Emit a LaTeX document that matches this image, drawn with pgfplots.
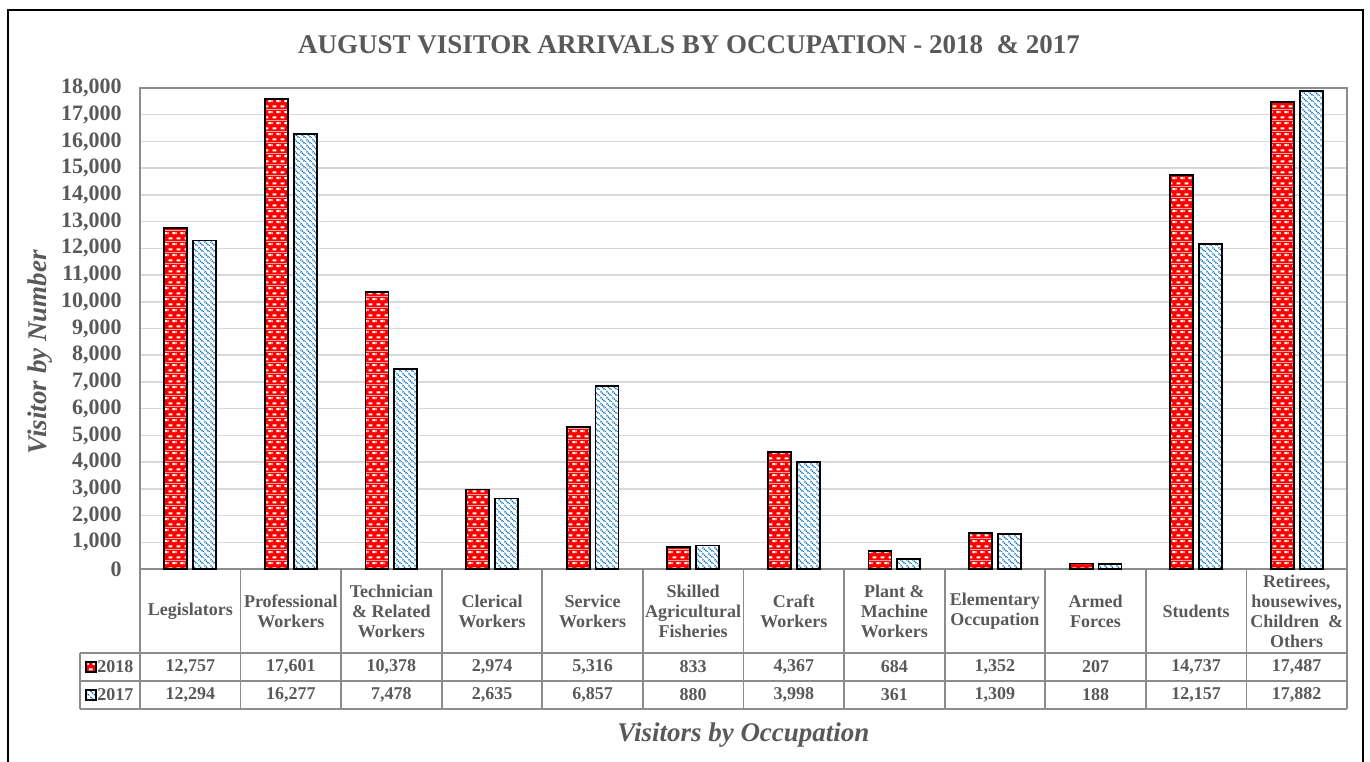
\documentclass[border=0pt]{standalone}
\usepackage{fontspec}
\setmainfont{Liberation Serif}
\usepackage{pgfplots}
\usepackage{pgfplotstable}
\pgfplotsset{compat=1.18}
\usetikzlibrary{patterns}
\definecolor{txtgrey}{RGB}{89,89,89}
\definecolor{gridgrey}{RGB}{217,217,217}
\definecolor{bordergrey}{RGB}{140,140,140}
\definecolor{dotblue}{RGB}{0,112,192}
\pgfdeclarepatterninherentlycolored{redbrick}{\pgfqpoint{0pt}{0pt}}{\pgfqpoint{4pt}{5.6pt}}{\pgfqpoint{4pt}{5.6pt}}{%
  \pgfsetfillcolor{red}%
  \pgfpathrectangle{\pgfqpoint{0pt}{0pt}}{\pgfqpoint{4pt}{5.6pt}}%
  \pgfusepath{fill}%
  \pgfsetfillcolor{white}%
  \pgfpathrectangle{\pgfqpoint{0.4pt}{0.9pt}}{\pgfqpoint{2pt}{1pt}}%
  \pgfpathrectangle{\pgfqpoint{2.4pt}{3.7pt}}{\pgfqpoint{1.6pt}{1pt}}%
  \pgfpathrectangle{\pgfqpoint{0pt}{3.7pt}}{\pgfqpoint{0.4pt}{1pt}}%
  \pgfusepath{fill}}
\pgfdeclarepatterninherentlycolored{bluedots}{\pgfqpoint{0pt}{0pt}}{\pgfqpoint{3pt}{3pt}}{\pgfqpoint{3pt}{3pt}}{%
  \pgfsetfillcolor{white}%
  \pgfpathrectangle{\pgfqpoint{0pt}{0pt}}{\pgfqpoint{3pt}{3pt}}%
  \pgfusepath{fill}%
  \pgfsetstrokecolor{dotblue}%
  \pgfsetlinewidth{0.75pt}%
  \pgfsetdash{{0.7pt}{0.5pt}}{0pt}%
  \pgfpathmoveto{\pgfqpoint{-0.5pt}{3.5pt}}\pgfpathlineto{\pgfqpoint{3.5pt}{-0.5pt}}%
  \pgfusepath{stroke}}
\pgfplotstableread{
x a b
0 12757 12294
1 17601 16277
2 10378 7478
3 2974 2635
4 5316 6857
5 833 880
6 4367 3998
7 684 361
8 1352 1309
9 207 188
10 14737 12157
11 17487 17882
}\datatable
\newcommand{\tabfont}{\bfseries\fontsize{9}{10}\selectfont}
\begin{document}
\begin{tikzpicture}
\begin{axis}[
  at={(0pt,0pt)}, anchor=south west,
  scale only axis, width=603.5pt, height=240.5pt,
  xmin=-0.5, xmax=11.5, ymin=0, ymax=18000,
  enlargelimits=false, clip=false,
  axis line style={draw=bordergrey, line width=0.7pt},
  ymajorgrids, grid style={gridgrey, line width=0.75pt},
  major tick length=0pt,
  ytick={0,1000,...,18000},
  scaled y ticks=false,
  yticklabel={\pgfmathprintnumber[fixed,precision=0,1000 sep={,},assume math mode=true]{\tick}},
  yticklabel style={font=\bfseries\fontsize{11}{13}\selectfont, text=txtgrey, anchor=east, inner sep=0pt, xshift=-9pt},
  xtick={0,...,11},
  xticklabels={{Legislators},{Professional\\Workers},{Technician\\\& Related\\Workers},{Clerical\\Workers},{Service\\Workers},{Skilled\\Agricultural\\Fisheries},{Craft\\Workers},{Plant \&\\Machine\\Workers},{Elementary\\Occupation},{Armed\\Forces},{Students},{Retirees,\\housewives,\\Children \ \&\\Others}},
  xticklabel style={font=\tabfont, text=txtgrey, align=center, anchor=center, yshift=-21pt, inner sep=0pt},
  title={AUGUST VISITOR ARRIVALS BY OCCUPATION - 2018 \ \& 2017},
  title style={at={(axis description cs:0.4549,1.0644)}, anchor=center, font=\bfseries\fontsize{13.5}{15}\selectfont, text=txtgrey},
  xlabel={Visitors by Occupation},
  xlabel style={at={(axis description cs:0.5,-0.3451)}, anchor=center, font=\bfseries\itshape\fontsize{13.5}{15}\selectfont, text=txtgrey},
  ylabel={Visitor by Number},
  ylabel style={at={(axis description cs:-0.0829,0.451)}, anchor=center, font=\bfseries\itshape\fontsize{13.5}{15}\selectfont, text=txtgrey},
]
\addplot[ybar, bar width=11.5pt, bar shift=-7.2pt, draw=black, line width=0.9pt, pattern=redbrick]
  table[x=x, y=a]{\datatable};
\addplot[ybar, bar width=11.5pt, bar shift=7.2pt, draw=black, line width=0.9pt, pattern=bluedots]
  table[x=x, y=b]{\datatable};
\addplot[only marks, mark=none, forget plot, point meta=explicit,
  nodes near coords={\pgfmathprintnumber[fixed,precision=0,1000 sep={,},assume math mode=true]{\pgfplotspointmeta}},
  every node near coord/.append style={anchor=center, yshift=-49pt, font=\tabfont, text=txtgrey, inner sep=0pt}]
  table[x=x, y expr=0, meta=a]{\datatable};
\addplot[only marks, mark=none, forget plot, point meta=explicit,
  nodes near coords={\pgfmathprintnumber[fixed,precision=0,1000 sep={,},assume math mode=true]{\pgfplotspointmeta}},
  every node near coord/.append style={anchor=center, yshift=-63pt, font=\tabfont, text=txtgrey, inner sep=0pt}]
  table[x=x, y expr=0, meta=b]{\datatable};
\end{axis}
\begin{scope}[bordergrey, line width=0.9pt]
\foreach \k in {0,...,12} \draw ({\k*50.2917pt},0pt) -- ({\k*50.2917pt},-70pt);
\draw (-30pt,-42pt) -- (603.5pt,-42pt);
\draw (-30pt,-56pt) -- (603.5pt,-56pt);
\draw (-30pt,-70pt) -- (603.5pt,-70pt);
\draw (-30pt,-42pt) -- (-30pt,-70pt);
\end{scope}
% legend keys and labels (table's left column)
\fill[pattern=redbrick] (-27pt,-51.5pt) rectangle (-22pt,-46.5pt);
\draw[black, line width=0.8pt] (-27pt,-51.5pt) rectangle (-22pt,-46.5pt);
\node[anchor=west, inner sep=0pt, font=\tabfont, text=txtgrey] at (-21.5pt,-49pt) {2018};
\fill[pattern=bluedots] (-27pt,-65.5pt) rectangle (-22pt,-60.5pt);
\draw[black, line width=0.8pt] (-27pt,-65.5pt) rectangle (-22pt,-60.5pt);
\node[anchor=west, inner sep=0pt, font=\tabfont, text=txtgrey] at (-21.5pt,-63pt) {2017};
\draw[black, line width=1pt] (-66pt,279.5pt) rectangle (611.5pt,-110pt);
\pgfresetboundingbox
\path[use as bounding box] (-70pt,-96pt) rectangle (615pt,284.5pt);
\end{tikzpicture}
\end{document}
